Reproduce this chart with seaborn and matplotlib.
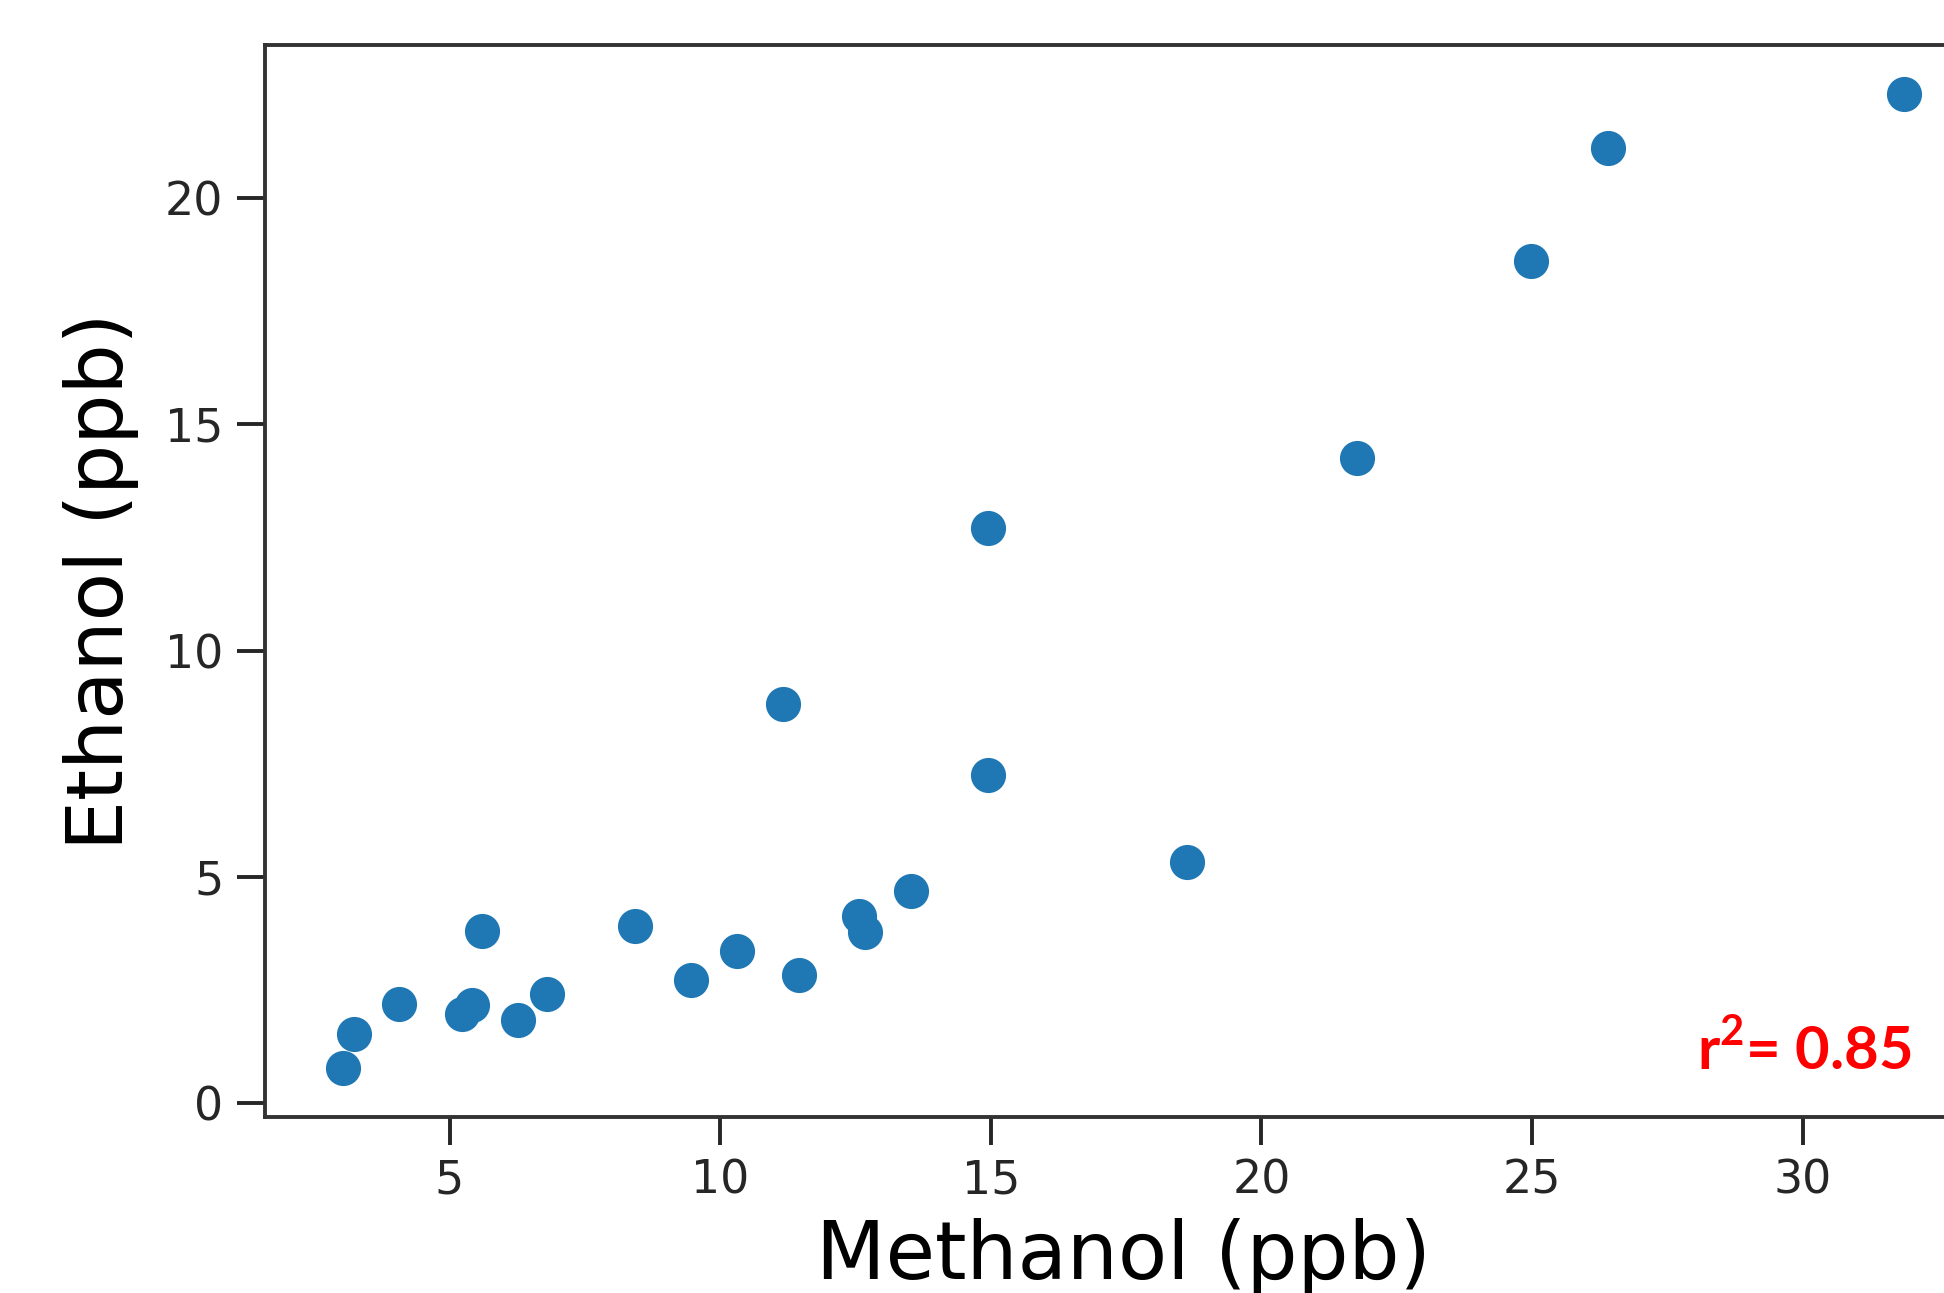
import numpy as np
import pandas as pd
import matplotlib
matplotlib.use("Agg")
import matplotlib.pyplot as plt
import seaborn as sns

# ================= Data =================
methanol = [3.03, 3.24, 4.07, 5.23, 5.42, 5.60, 6.26, 6.81, 8.42, 9.47, 10.32,
            11.16, 11.46, 12.56, 12.68, 13.52, 14.94, 14.94, 18.63, 21.77,
            24.98, 26.40, 31.88]
ethanol = [0.77, 1.53, 2.19, 1.97, 2.16, 3.81, 1.84, 2.41, 3.92, 2.71, 3.37,
           8.82, 2.82, 4.14, 3.78, 4.68, 12.71, 7.26, 5.32, 14.25,
           18.60, 21.10, 22.30]
r2_label = r"r$^\mathregular{2}$= 0.85"

df = pd.DataFrame({"Methanol": methanol, "Ethanol": ethanol})

# ================= Figure =================
fig = plt.figure(figsize=(19.44, 12.93), dpi=100)
# axes runs past the right edge, like the cropped screenshot
ax = fig.add_axes([0.1363, 0.1361, 0.8834, 0.829])

sns.scatterplot(data=df, x="Methanol", y="Ethanol", ax=ax,
                color="#1f77b4", s=640, linewidth=0, alpha=1)

ax.set_xticks([5, 10, 15, 20, 25, 30])
ax.set_yticks([0, 5, 10, 15, 20])
ax.set_xlim(1.59, 33.32)
ax.set_ylim(-0.31, 23.38)

for sp in ax.spines.values():
    sp.set_color("#333333")
    sp.set_linewidth(2.8)
ax.tick_params(axis="both", colors="#262626", labelsize=33,
               length=20, width=2.8, pad=10)

ax.set_xlabel("Methanol (ppb)", fontsize=58, color="black", labelpad=10)
ax.set_ylabel("Ethanol (ppb)", fontsize=57, color="black", labelpad=19)

fig.text(0.9835, 0.1732, r2_label, color="red", fontsize=43,
         fontweight="bold", family=["Lato", "DejaVu Sans"],
         ha="right", va="baseline")

fig.savefig("out.png", dpi=100)
